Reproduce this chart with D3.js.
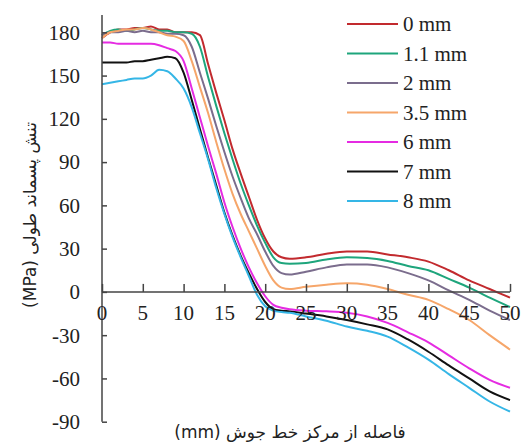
<!DOCTYPE html>
<html>
<head>
<meta charset="utf-8">
<script src="https://cdn.jsdelivr.net/npm/d3@7"></script>
<style>
  html, body { margin: 0; padding: 0; background: #fff; }
  svg { display: block; }
</style>
</head>
<body>
<svg id="chart" width="524" height="447"></svg>
<script>
// ---- data ----
const xValues = [0,1,2,3,4,5,6,7,8,9,10,11,12,13,14,15,16,17,18,19,20,21,22,23,25,27.5,30,32.5,35,37.5,40,42.5,45,47.5,50];
const seriesNames = ["0 mm", "1.1 mm", "2 mm", "3.5 mm", "6 mm", "7 mm", "8 mm"];
const s0mm   = [176,180,182,182,183,183,184,182,182,180,180,180,178,158,138,119,99,82,66,50,37,28,24,23,24,26.5,28,28,26,24,21,15,8,2,-4];
const s1_1mm = [178,181,182,181,182,183,182,181,181,180,180,179,170,149,129,110,92,75,60,46,34,24,20,19.5,20,22.5,24,23.5,21.5,18,15,9,3,-4,-10.5];
const s2mm   = [178,180,180,181,180,181,180,180,179,179,178,170,152,134,115,97,80,65,51,40,28,18,13,12,14,17,19,19,17,13,8,1,-5.5,-13,-19.5];
const s3_5mm = [176,180,181,182,182,183,182,180,178,177,174,160,142,124,104,85,68,54,42,30,18,8,3,2,3.5,5,6,5,2,-2,-5.5,-12,-19.5,-30,-40];
const s6mm   = [173,173,172,172,172,172,172,171,169,167,160,141,121,101,82,62,45,30,17,6,-3,-9,-11,-12,-13,-13.5,-14.5,-17,-21.5,-28,-35,-44,-53,-61,-66.5];
const s7mm   = [159,159,159,159,160,160,161,162,163,162,152,133,113,93,74,55,39,25,13,2,-7,-12,-13,-13.5,-15,-17,-19.5,-22.5,-26,-33,-41.5,-51,-60,-69,-75];
const s8mm   = [144,145,146,147,148,148,150,154,153,148,141,128,110,92,72,54,38,24,11,-2,-10,-13,-14,-14.5,-17,-20,-24,-27,-31,-38.5,-47,-57,-66.5,-76,-83];
const seriesColors = ["#c22a2e", "#1ea57c", "#7b6d8d", "#f6a66a", "#e52be2", "#111111", "#35b6e6"];
const xTicks = [0,5,10,15,20,25,30,35,40,45,50];
const yTicks = [-90,-60,-30,0,30,60,90,120,150,180];
const yTitle = "تنش پسماند طولی (MPa)";
const xTitle = "فاصله از مرکز خط جوش (mm)";

const allSeries = [s0mm, s1_1mm, s2mm, s3_5mm, s6mm, s7mm, s8mm];

const SERIF = "Liberation Serif, Tinos, DejaVu Serif, serif";
const FA = "DejaVu Sans, Noto Sans, sans-serif";

const svg = d3.select("#chart");
const x = d3.scaleLinear().domain([0, 50]).range([102, 510]);
const y = d3.scaleLinear().domain([-90, 192]).range([421.7, 15]);
const axisColor = "#444";

// curves
const line = d3.line().x(d => x(d[0])).y(d => y(d[1])).curve(d3.curveMonotoneX);
allSeries.forEach((vals, i) => {
  const pts = xValues.map((xv, j) => [xv, vals[j]]);
  svg.append("path").datum(pts)
    .attr("d", line)
    .attr("fill", "none")
    .attr("stroke", seriesColors[i])
    .attr("stroke-width", 2)
    .attr("stroke-linejoin", "round");
});

// y axis
const yAxis = d3.axisRight(y).tickValues(yTicks).tickSize(5).tickFormat("");
const gy = svg.append("g").attr("transform", `translate(${x(0)},0)`).call(yAxis);
gy.select(".domain").attr("stroke", axisColor).attr("stroke-width", 1.5).attr("d", `M0,${y(-90)}V${y(192)}`);
gy.selectAll(".tick line").attr("stroke", axisColor).attr("stroke-width", 1.5);
svg.append("g").selectAll("text").data(yTicks).join("text")
  .attr("x", 80).attr("y", d => y(d)).attr("dy", "0.35em")
  .attr("text-anchor", "end").attr("font-family", SERIF).attr("font-size", 21)
  .attr("fill", "#222").text(d => d);

// x axis at y=0
const xAxis = d3.axisTop(x).tickValues(xTicks).tickSize(8).tickFormat("");
const gx = svg.append("g").attr("transform", `translate(0,${y(0)})`).call(xAxis);
gx.select(".domain").attr("stroke", axisColor).attr("stroke-width", 1.5).attr("d", `M${x(0)},0H${x(50)}`);
gx.selectAll(".tick line").attr("stroke", axisColor).attr("stroke-width", 1.5);
svg.append("g").selectAll("text").data(xTicks).join("text")
  .attr("x", d => x(d)).attr("y", y(0) + 28)
  .attr("text-anchor", "middle").attr("font-family", SERIF).attr("font-size", 21)
  .attr("fill", "#222").text(d => d);

// legend
const legend = svg.append("g");
seriesNames.forEach((name, i) => {
  const ly = 24 + i * 29.5;
  legend.append("line").attr("x1", 347).attr("x2", 398).attr("y1", ly).attr("y2", ly)
    .attr("stroke", seriesColors[i]).attr("stroke-width", 2);
  legend.append("text").attr("x", 403).attr("y", ly).attr("dy", "0.35em")
    .attr("font-family", SERIF).attr("font-size", 21).attr("fill", "#222").text(name);
});

// titles
svg.append("text")
  .attr("transform", `translate(30,215) rotate(-90)`)
  .attr("text-anchor", "middle").attr("dy", "0.35em")
  .attr("font-family", FA).attr("font-size", 17).attr("fill", "#222")
  .attr("direction", "rtl").text(yTitle);
svg.append("text")
  .attr("x", 290).attr("y", 438)
  .attr("text-anchor", "middle")
  .attr("font-family", FA).attr("font-size", 17).attr("fill", "#222")
  .attr("direction", "rtl").text(xTitle);
</script>
</body>
</html>
